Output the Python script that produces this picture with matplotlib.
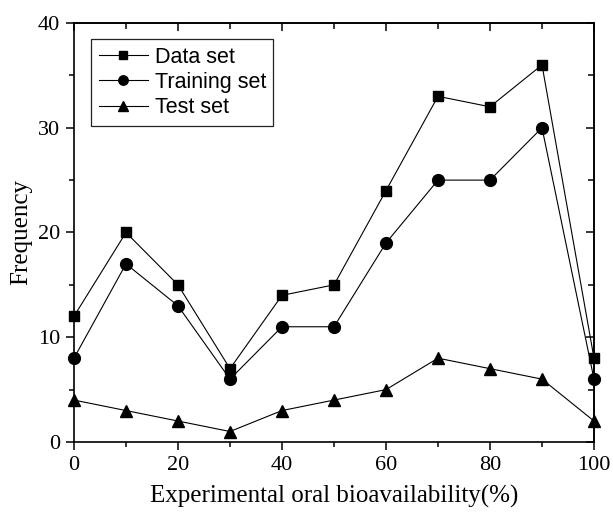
import matplotlib
matplotlib.use("Agg")
import matplotlib.pyplot as plt
from matplotlib.ticker import MultipleLocator, NullFormatter

x = [0, 10, 20, 30, 40, 50, 60, 70, 80, 90, 100]
data_set = [12, 20, 15, 7, 14, 15, 24, 33, 32, 36, 8]
training_set = [8, 17, 13, 6, 11, 11, 19, 25, 25, 30, 6]
test_set = [4, 3, 2, 1, 3, 4, 5, 8, 7, 6, 2]

fig = plt.figure(figsize=(6.13, 5.19), dpi=100)
ax = fig.add_axes([0.1207, 0.1484, 0.8483, 0.8073])

ax.plot(x, data_set, marker="s", markersize=7.5, color="black", linewidth=0.8,
        clip_on=False, zorder=3, label="Data set")
ax.plot(x, training_set, marker="o", markersize=8.5, color="black", linewidth=0.8,
        clip_on=False, zorder=3, label="Training set")
ax.plot(x, test_set, marker="^", markersize=9, color="black", linewidth=0.8,
        clip_on=False, zorder=3, label="Test set")

ax.set_xlim(0, 100)
ax.set_ylim(0, 40)
ax.xaxis.set_major_locator(MultipleLocator(20))
ax.xaxis.set_minor_locator(MultipleLocator(10))
ax.yaxis.set_major_locator(MultipleLocator(10))
ax.yaxis.set_minor_locator(MultipleLocator(5))
ax.tick_params(which="both", direction="out", width=1.1)
ax.tick_params(which="major", length=6, labelsize=16, pad=4)
ax.tick_params(which="minor", length=3.5)
for s in ax.spines.values():
    s.set_linewidth(1.2)
for lab in ax.get_xticklabels() + ax.get_yticklabels():
    lab.set_fontfamily("Liberation Serif")

# inward ticks on top and right
top = ax.secondary_xaxis("top")
top.xaxis.set_major_locator(MultipleLocator(20))
top.xaxis.set_minor_locator(MultipleLocator(10))
top.xaxis.set_major_formatter(NullFormatter())
top.tick_params(which="both", direction="in", width=1.1)
top.tick_params(which="major", length=6)
top.tick_params(which="minor", length=4.5)
top.spines["top"].set_linewidth(1.2)
right = ax.secondary_yaxis("right")
right.yaxis.set_major_locator(MultipleLocator(10))
right.yaxis.set_minor_locator(MultipleLocator(5))
right.yaxis.set_major_formatter(NullFormatter())
right.tick_params(which="both", direction="in", width=1.1)
right.tick_params(which="major", length=6)
right.tick_params(which="minor", length=4.5)
right.spines["right"].set_linewidth(1.2)

ax.set_xlabel("Experimental oral bioavailability(%)", fontsize=18, family="Liberation Serif", labelpad=7)
ax.set_ylabel("Frequency", fontsize=18, family="Liberation Serif", labelpad=4)

leg = ax.legend(loc="upper left", bbox_to_anchor=(0.0327, 0.9618), prop={"family": "Liberation Sans", "size": 15.5},
                frameon=True, fancybox=False, edgecolor="#222222", handlelength=2.3, handletextpad=0.3,
                borderpad=0.35, labelspacing=0.2, borderaxespad=0, markerscale=0.8, framealpha=1)
leg.get_frame().set_linewidth(0.9)

fig.savefig("out.png", dpi=100)
